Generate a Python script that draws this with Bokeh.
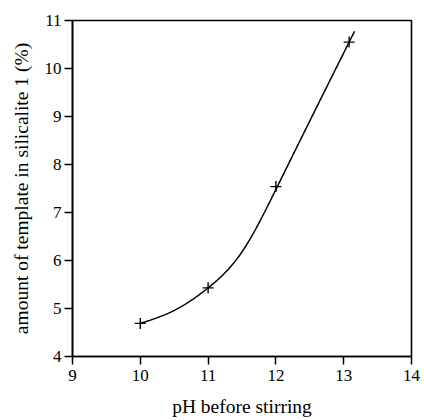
import numpy as np
from bokeh.plotting import figure
from bokeh.models import FixedTicker, Range1d
from bokeh.embed import file_html
from bokeh.resources import INLINE

ph = [10.0, 11.0, 12.0, 13.08]
template = [4.69, 5.43, 7.54, 10.55]

# points
curve_x = [10.0, 10.5, 11.0, 11.5, 12.0, 12.55, 13.08]
curve_y = [4.69, 4.96, 5.43, 6.18, 7.48, 9.05, 10.55]
curve_end = 13.16

x_ticks = [9, 10, 11, 12, 13, 14]
y_ticks = [4, 5, 6, 7, 8, 9, 10, 11]


def natural_spline(xs, ys, xe):
    """Smooth C2 rendering through the read curve points."""
    xs = np.asarray(xs, float)
    ys = np.asarray(ys, float)
    n = len(xs)
    h = np.diff(xs)
    A = np.zeros((n, n))
    b = np.zeros(n)
    A[0, 0] = 1
    A[-1, -1] = 1
    for i in range(1, n - 1):
        A[i, i - 1] = h[i - 1]
        A[i, i] = 2 * (h[i - 1] + h[i])
        A[i, i + 1] = h[i]
        b[i] = 6 * ((ys[i + 1] - ys[i]) / h[i] - (ys[i] - ys[i - 1]) / h[i - 1])
    M = np.linalg.solve(A, b)
    out = []
    for x in xe:
        i = int(min(max(np.searchsorted(xs, x) - 1, 0), n - 2))
        hi = h[i]
        a = xs[i + 1] - x
        c = x - xs[i]
        s = (M[i] * a ** 3 / (6 * hi) + M[i + 1] * c ** 3 / (6 * hi)
             + (ys[i] / hi - M[i] * hi / 6) * a
             + (ys[i + 1] / hi - M[i + 1] * hi / 6) * c)
        out.append(s)
    return np.array(out)


cx = np.linspace(curve_x[0], curve_end, 240)
cy = natural_spline(curve_x, curve_y, cx)

FONT = "Liberation Serif"

p = figure(width=424, height=420, output_backend="svg", toolbar_location=None,
           x_range=Range1d(9, 14), y_range=Range1d(4, 11),
           min_border_left=72, min_border_right=13, min_border_top=20,
           min_border_bottom=64)
p.background_fill_color = "white"
p.border_fill_color = "white"
p.outline_line_color = "black"
p.outline_line_width = 1.6
p.xgrid.visible = False
p.ygrid.visible = False

p.line(cx, cy, line_color="black", line_width=1.5)
p.scatter(ph, template, marker="cross", size=11, line_color="black", line_width=1.4)

for ax, ticks in ((p.xaxis[0], x_ticks), (p.yaxis[0], y_ticks)):
    ax.ticker = FixedTicker(ticks=ticks)
    ax.minor_tick_line_color = None
    ax.major_tick_out = 8
    ax.major_tick_in = 0
    ax.major_tick_line_width = 1.5
    ax.major_tick_line_color = "black"
    ax.axis_line_color = "black"
    ax.axis_line_width = 1.6
    ax.major_label_text_font = FONT
    ax.major_label_text_font_size = "17px"
    ax.major_label_text_color = "black"
    ax.axis_label_text_font = FONT
    ax.axis_label_text_font_size = "19.5px"
    ax.axis_label_text_font_style = "normal"
    ax.axis_label_text_color = "black"

p.xaxis.axis_label = "pH before stirring"
p.yaxis.axis_label = "amount of template in silicalite 1 (%)"
p.xaxis.major_label_standoff = 5
p.xaxis.axis_label_standoff = 12
p.yaxis.major_label_standoff = 3
p.yaxis.axis_label_standoff = 10

open("out.html", "w").write(file_html(p, INLINE))
